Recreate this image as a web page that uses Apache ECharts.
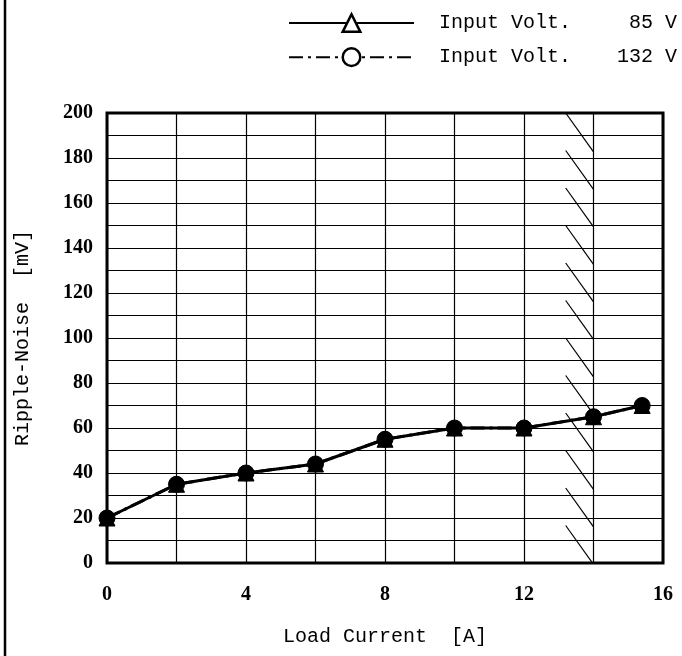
<!DOCTYPE html>
<html><head><meta charset="utf-8">
<script src="https://cdn.jsdelivr.net/npm/echarts@6/dist/echarts.min.js"></script>
<style>html,body{margin:0;padding:0;background:#fff}#c{width:682px;height:656px}</style>
</head><body><div id="c"></div>
<script>
const loadCurrent = [0, 2, 4, 6, 8, 10, 12, 14, 15.4];
const ripple85 = [20, 35, 40, 44, 55, 60, 60, 65, 70];
const ripple132 = [20, 35, 40, 44, 55, 60, 60, 65, 70];
const seriesNames = ['85 V', '132 V'];
const xTicks = [0, 4, 8, 12, 16];
const yTicks = [0, 20, 40, 60, 80, 100, 120, 140, 160, 180, 200];
const hatchX = 14;
const hatchCount = 12;

const mono = '"Liberation Mono", "DejaVu Sans Mono", monospace';
const serif = '"Liberation Serif", "DejaVu Serif", serif';

const hatchData = [];
for (let i = 0; i < hatchCount; i++) hatchData.push([hatchX, 200 - i * 200 / hatchCount]);

const chart = echarts.init(document.getElementById('c'));
chart.setOption({
  animation: false,
  backgroundColor: '#fff',
  grid: { left: 107, right: 19, top: 113, bottom: 93, show: true, borderColor: '#000', borderWidth: 3, backgroundColor: 'transparent' },
  legend: {
    right: 0, top: 8, orient: 'vertical', itemGap: 14,
    itemWidth: 125, itemHeight: 22,
    formatter: function (n) { return '{a|Input Volt.}{b|' + n + '}'; },
    textStyle: {
      fontFamily: mono, fontSize: 20, color: '#000',
      rich: { a: { fontFamily: mono, fontSize: 20, width: 172, padding: [0,0,0,20] }, b: { fontFamily: mono, fontSize: 20, width: 66, align: 'right' } }
    },
    data: [
      { name: seriesNames[0], itemStyle: { color: '#fff', borderColor: '#000', borderWidth: 2.5 } },
      { name: seriesNames[1], itemStyle: { color: '#fff', borderColor: '#000', borderWidth: 2.5 } }
    ]
  },
  xAxis: {
    type: 'value', min: 0, max: 16, interval: 2,
    name: 'Load Current  [A]', nameLocation: 'middle', nameGap: 64,
    nameTextStyle: { fontFamily: mono, fontSize: 20, color: '#000' },
    axisLine: { show: false }, axisTick: { show: false },
    axisLabel: { margin: 22, fontFamily: serif, fontWeight: 'bold', fontSize: 20, color: '#000',
      formatter: v => xTicks.includes(v) ? String(v) : '' },
    splitLine: { show: true, lineStyle: { color: '#000', width: 1.2 } }
  },
  yAxis: {
    type: 'value', min: 0, max: 200, interval: 10,
    name: 'Ripple-Noise  [mV]', nameLocation: 'middle', nameGap: 74,
    nameTextStyle: { fontFamily: mono, fontSize: 20, color: '#000' },
    axisLine: { show: false }, axisTick: { show: false },
    axisLabel: { margin: 14, fontFamily: serif, fontWeight: 'bold', fontSize: 20, color: '#000',
      formatter: v => yTicks.includes(v) ? String(v) : '' },
    splitLine: { show: true, lineStyle: { color: '#000', width: 1.2 } }
  },
  series: [
    {
      type: 'custom', name: 'hatch', silent: true, clip: true, z: 1,
      renderItem: function (params, api) {
        const p1 = api.coord([api.value(0) - 0.8, api.value(1)]);
        const p2 = api.coord([api.value(0), api.value(1) - 17.3]);
        return { type: 'line', shape: { x1: p1[0], y1: p1[1], x2: p2[0], y2: p2[1] }, style: { stroke: '#000', lineWidth: 1.2 } };
      },
      data: hatchData
    },
    {
      name: seriesNames[0], type: 'line', z: 3,
      data: loadCurrent.map((x, i) => [x, ripple85[i]]),
      symbol: 'triangle', symbolSize: 16,
      lineStyle: { color: '#000', width: 3 },
      itemStyle: { color: '#000', borderColor: '#000', borderWidth: 1 }
    },
    {
      name: seriesNames[1], type: 'line', z: 4,
      data: loadCurrent.map((x, i) => [x, ripple132[i]]),
      symbol: 'circle', symbolSize: 16,
      lineStyle: { color: '#000', width: 3, type: [14, 5, 3, 5] },
      itemStyle: { color: '#000', borderColor: '#000', borderWidth: 1 }
    }
  ],
  graphic: [
    { type: 'line', shape: { x1: 5, y1: 0, x2: 5, y2: 656 }, style: { stroke: '#000', lineWidth: 2.5 } }
  ]
});
</script></body></html>
